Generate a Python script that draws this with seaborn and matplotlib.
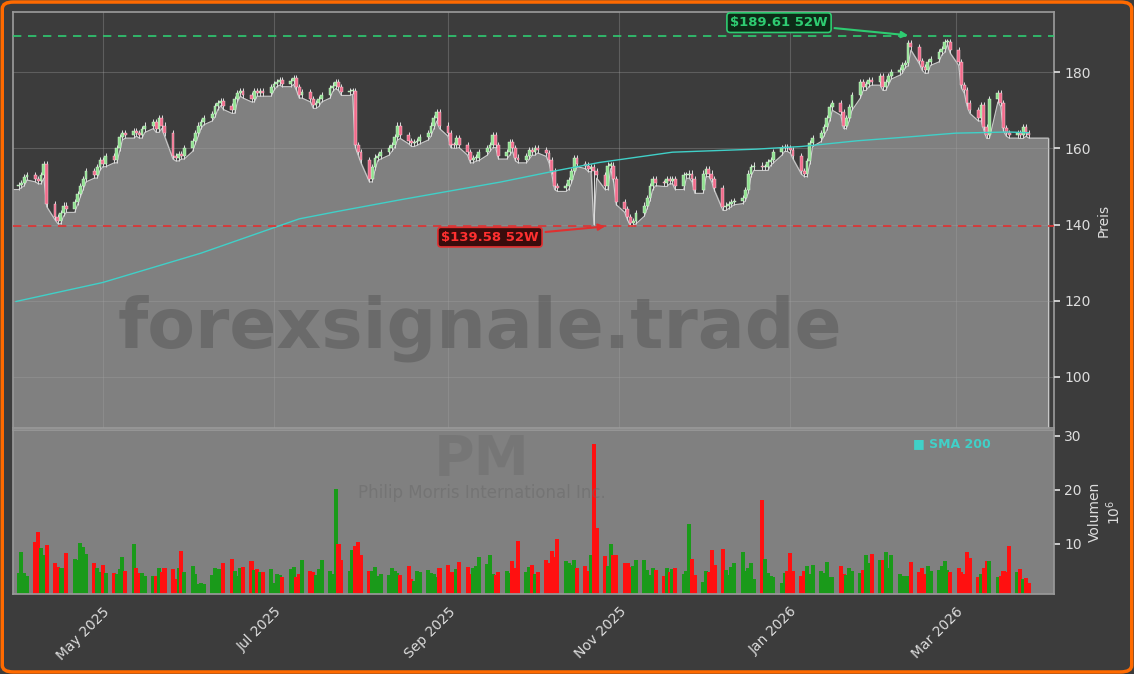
import numpy as np
import pandas as pd
import matplotlib
matplotlib.use("Agg")
import matplotlib.pyplot as plt
import matplotlib.dates as mdates
from matplotlib.patches import FancyBboxPatch
import seaborn as sns

# --- data ---
close = [150.5, 151, 152.5, 153, 152, 151.5, 153, 156, 145.5, 142, 141, 143, 145, 144, 146, 148, 150, 152, 154, 153, 155, 157,
         156, 158, 157, 160, 163, 164, 163.5, 164.5, 164, 163.5, 165, 166, 167, 165, 168, 166, 164, 158, 157.5, 158.5,
         158, 160, 162, 164, 166, 167, 168, 169, 171, 172, 172.5, 171, 170, 173, 174.5, 175, 174, 173, 175, 174.5,
         175, 174.5, 176, 177, 177.4, 178, 177, 177.6, 178.4, 176, 174, 174.7, 173, 171.3, 171.8, 173, 174, 175.8,
         176.5, 177.4, 176, 174.7, 175, 175,
         161, 159, 157, 152, 155, 157.6, 158, 159, 160, 161, 163, 166, 163.4, 162, 161.3, 161.6, 162,
         163, 164, 166, 168, 169.5, 166, 164, 161, 160.8, 162.6, 161, 159, 157, 157.5, 157.6, 159, 160,
         161, 163.4, 161, 158, 159, 161.6, 160, 157.6, 157, 158, 159.5, 159, 160, 159.6, 158.7, 157, 154, 150,
         149.5, 150, 151.6, 154, 157.4, 156, 155.5, 154.7, 155, 154, 153, 150, 155.5, 155.5,
         152, 146, 144, 142, 140.5, 141, 143,
         145, 147, 150, 152, 151, 150.8, 152, 151.5, 152, 150, 152.9, 153, 153.4, 152, 149, 153.4, 154.7,
         153.4, 152, 149.7, 144.5, 145, 145.5, 146, 146.3, 147, 149, 153.4, 155, 155.5, 155, 155,
         156.3, 157, 159, 160, 160.3, 160, 159.5, 158, 154, 153.4, 156.8, 161.3, 162.6, 164, 165.5, 168, 170.8,
         172, 169.5, 166, 168, 170.8, 174, 177.4, 176, 177, 178, 177.4, 179, 176, 177.4, 179, 180, 180.5, 182,
         182.5, 187.6, 186.6, 183, 181.3, 180.5, 182.6, 183.5, 185.3, 186, 188, 188, 185.8, 182.6, 176.6,
         175.3, 172, 170, 168, 171.3, 165.5, 163.4, 173, 174.5, 171.8, 165.3, 164, 163.5, 164, 163.4, 165.5, 164, 163.5]
low_override = {147: 140.0}

volume = [4.6, 8.6, 4.6, 4.0, 10.4, 12.3, 9.2, 8.0, 9.8, 6.5, 5.8, 5.5, 5.6, 8.3, 7.3, 7.0, 10.2, 9.5, 8.2, 6.4,
          5.5, 4.8, 6.1, 4.6, 4.6, 4.5, 5.4, 7.6, 5.0, 10.0, 5.5, 4.6, 4.6, 4.0, 4.0, 4.0, 5.6, 4.8, 5.6, 5.4,
          3.5, 5.6, 8.7, 4.8, 6.0, 4.4, 2.5, 2.8, 2.5, 4.3, 5.5, 5.4, 5.3, 6.5, 7.3, 5.0, 4.0, 5.5, 5.8, 6.9,
          5.1, 5.4, 4.8, 4.8, 5.3, 2.8, 4.4, 4.2, 3.9, 5.3, 5.8, 3.8, 4.5, 7.0, 5.0, 4.8, 4.2, 5.3, 7.0, 5.0,
          4.5, 20.2, 10.0, 7.0, 5.0, 8.8, 9.6, 10.4, 7.9, 5.0, 5.0, 5.8, 4.0, 4.5, 4.2, 5.5, 5.0, 4.6, 4.2, 6.0,
          3.5, 3.2, 5.0, 4.9, 5.2, 4.6, 4.5, 3.8, 5.6, 6.1, 4.8, 4.9, 5.3, 6.6, 5.8, 4.4, 5.5, 5.9, 7.5, 6.3,
          8.0, 4.5, 4.3, 4.8, 5.0, 4.6, 6.9, 5.5, 10.6, 4.8, 5.8, 6.2, 4.5, 4.8, 7.0, 6.5, 8.7, 7.5, 11.0, 6.9,
          6.5, 6.1, 7.0, 5.5, 6.0, 5.0, 8.0, 28.5, 12.9, 7.8, 6.0, 10.0, 8.0, 8.0, 6.5, 6.5, 5.8, 6.0, 7.0, 7.1,
          5.2, 4.2, 5.5, 5.2, 4.0, 5.5, 4.8, 5.4, 5.6, 4.4, 5.0, 13.7, 7.3, 4.2, 3.0, 5.0, 4.8, 8.8, 6.2, 9.0,
          5.1, 4.2, 5.8, 6.4, 8.5, 5.0, 5.5, 6.5, 3.5, 18.2, 7.2, 4.6, 4.0, 3.8, 2.8, 4.6, 5.0, 8.4, 5.0, 4.0,
          5.0, 6.0, 4.5, 6.1, 5.0, 4.7, 6.6, 3.8, 3.8, 6.0, 4.5, 4.2, 5.5, 5.0, 4.6, 5.1, 8.0, 6.5, 8.2, 7.0,
          7.0, 8.5, 5.5, 8.0, 4.5, 4.0, 4.0, 4.0, 6.6, 4.8, 5.6, 4.5, 6.0, 5.0, 5.2, 6.0, 6.8, 5.1, 4.9, 5.6,
          4.9, 4.5, 8.5, 7.4, 3.9, 4.5, 5.5, 6.8, 6.8, 3.9, 4.0, 5.0, 4.9, 9.6, 4.9, 5.3, 3.5, 3.7, 2.8]

sma_dates = ["2025-03-31", "2025-05-01", "2025-06-05", "2025-07-10", "2025-07-24", "2025-08-15", "2025-09-20",
             "2025-10-10", "2025-10-25", "2025-11-20", "2025-12-20", "2026-01-05", "2026-01-25", "2026-02-12",
             "2026-03-01", "2026-03-20", "2026-03-27"]
sma_vals = [119.8, 124.8, 132.5, 141.5, 143.5, 146.5, 151.2, 154.2, 156.3, 159.0, 159.8, 160.5, 162.0, 163.0,
            164.0, 164.3, 164.1]

high_52w = 189.61
low_52w = 139.58

n = min(len(close), len(volume))
close = np.array(close[:n])
volume = np.array(volume[:n])
dates = pd.bdate_range(end="2026-03-27", periods=n)
opens = np.r_[close[0] - 0.5, close[:-1]]
highs = np.maximum(opens, close) + 0.8
lows = np.minimum(opens, close) - 0.8
for k, v in low_override.items():
    if k < n:
        lows[k] = v

BG = "#3c3c3c"
GRAY = "#808080"
sns.set_theme(style="dark")
plt.rcParams["font.family"] = ["DejaVu Sans"]

fig = plt.figure(figsize=(11.34, 6.74), dpi=100, facecolor=BG)
W, H = 1134, 674
ax = fig.add_axes([13 / W, 1 - 428 / H, (1054 - 13) / W, (428 - 12) / H])
axv = fig.add_axes([13 / W, 1 - 594 / H, (1054 - 13) / W, (594 - 430) / H], sharex=ax)

for a in (ax, axv):
    a.set_facecolor(BG)
    for s in a.spines.values():
        s.set_color("#999999")
    a.yaxis.tick_right()
    a.yaxis.set_label_position("right")
    a.tick_params(colors="#dddddd", labelsize=10, length=4, color="#dddddd")
axv.set_facecolor(GRAY)

x0, x1 = pd.Timestamp("2025-03-30"), pd.Timestamp("2026-04-05")
ymin, ymax = 86.6, 195.8
ax.set_xlim(x0, x1)
ax.set_ylim(ymin, ymax)

# price area (gray under lows), extended flat to right
fill_x = [x0] + list(dates) + [pd.Timestamp("2026-04-03")]
fill_y = [lows[0]] + list(lows) + [lows[-1]]
ax.fill_between(fill_x, fill_y, ymin, color=GRAY, zorder=1)
ax.plot(fill_x, fill_y, color="#c8c8c8", lw=0.8, zorder=2)
ax.vlines(pd.Timestamp("2026-04-03"), ymin, lows[-1], color="#c8c8c8", lw=0.8, zorder=2)

ax.grid(True, color="#a0a0a0", alpha=0.35, lw=0.8)
ax.set_axisbelow(False)
ax.set_yticks([100, 120, 140, 160, 180])

# candles
up = close >= opens
ax.vlines(dates, lows, highs, color="#dddddd", lw=0.7, zorder=3)
body_lo = np.minimum(opens, close)
body_h = np.maximum(np.abs(close - opens), 0.3)
ax.bar(dates[up], body_h[up], bottom=body_lo[up], width=1.0, color="#8fe08f",
       edgecolor="#e8ffe8", lw=0.3, zorder=4)
ax.bar(dates[~up], body_h[~up], bottom=body_lo[~up], width=1.0, color="#f06a8a",
       edgecolor="#ffe0e8", lw=0.3, zorder=4)

# SMA 200
sma_df = pd.DataFrame({"date": pd.to_datetime(sma_dates), "sma": sma_vals})
sns.lineplot(data=sma_df, x="date", y="sma", ax=ax, color="#40d0c8", lw=1.0, zorder=5)

# 52W lines and labels
ax.axhline(high_52w, color="#2ecc71", ls=(0, (5, 4)), lw=1.2, zorder=5)
ax.axhline(low_52w, color="#e03030", ls=(0, (5, 4)), lw=1.2, zorder=5)
ax.annotate(f"${high_52w:.2f} 52W", xy=(pd.Timestamp("2026-02-13"), high_52w), xytext=(pd.Timestamp("2025-12-28"), 193),
            color="#2ecc71", fontsize=9.5, fontweight="bold", ha="center", va="center", zorder=7,
            bbox=dict(boxstyle="round,pad=0.25", fc="#0d2b17", ec="#2ecc71", lw=1.2),
            arrowprops=dict(arrowstyle="-|>", color="#2ecc71", lw=1.5))
ax.annotate(f"${low_52w:.2f} 52W", xy=(pd.Timestamp("2025-10-28"), low_52w), xytext=(pd.Timestamp("2025-09-16"), 136.7),
            color="#ff3030", fontsize=9.5, fontweight="bold", ha="center", va="center", zorder=7,
            bbox=dict(boxstyle="round,pad=0.25", fc="#3a0c0c", ec="#e03030", lw=1.2),
            arrowprops=dict(arrowstyle="-|>", color="#e03030", lw=1.5))

ax.set_ylabel("Preis", color="#dddddd", fontsize=10)
ax.set_xlabel("")
plt.setp(ax.get_xticklabels(), visible=False)
ax.tick_params(axis="x", length=0)

# volume
vup = np.r_[True, close[1:] >= close[:-1]]
axv.bar(dates, volume, width=1.45, color=np.where(vup, "#1a9a1a", "#ff1010"), edgecolor="none", lw=0, zorder=2)
axv.set_ylim(0.74, 31.1)
axv.set_yticks([10, 20, 30])
axv.set_ylabel("Volumen\n$10^6$", color="#dddddd", fontsize=10)
axv.xaxis.set_major_locator(mdates.MonthLocator(bymonth=[5, 7, 9, 11, 1, 3]))
axv.xaxis.set_major_formatter(mdates.DateFormatter("%b %Y"))
plt.setp(axv.get_xticklabels(), rotation=45, ha="right", rotation_mode="anchor")
axv.text(0.865, 0.955, "■ SMA 200", transform=axv.transAxes, color="#40d0c8", fontsize=9,
         fontweight="bold", va="top", zorder=6)

# watermarks
fig.text(480 / W, 1 - 328 / H, "forexsignale.trade", fontsize=50, fontweight="bold", color="#555555",
         alpha=0.5, ha="center", va="center", zorder=0)
fig.text(482 / W, 1 - 460 / H, "PM", fontsize=40, fontweight="bold", color="#666666", alpha=0.35,
         ha="center", va="center")
fig.text(482 / W, 1 - 493 / H, "Philip Morris International Inc.", fontsize=12, color="#666666",
         alpha=0.45, ha="center", va="center")

# orange border
fig.patches.append(FancyBboxPatch((0.002, 0.003), 0.996, 0.994, boxstyle="round,pad=0,rounding_size=0.01",
                                  transform=fig.transFigure, fc="none", ec="#ff6a00", lw=2.5))

fig.savefig("out.png", dpi=100, facecolor=BG)
